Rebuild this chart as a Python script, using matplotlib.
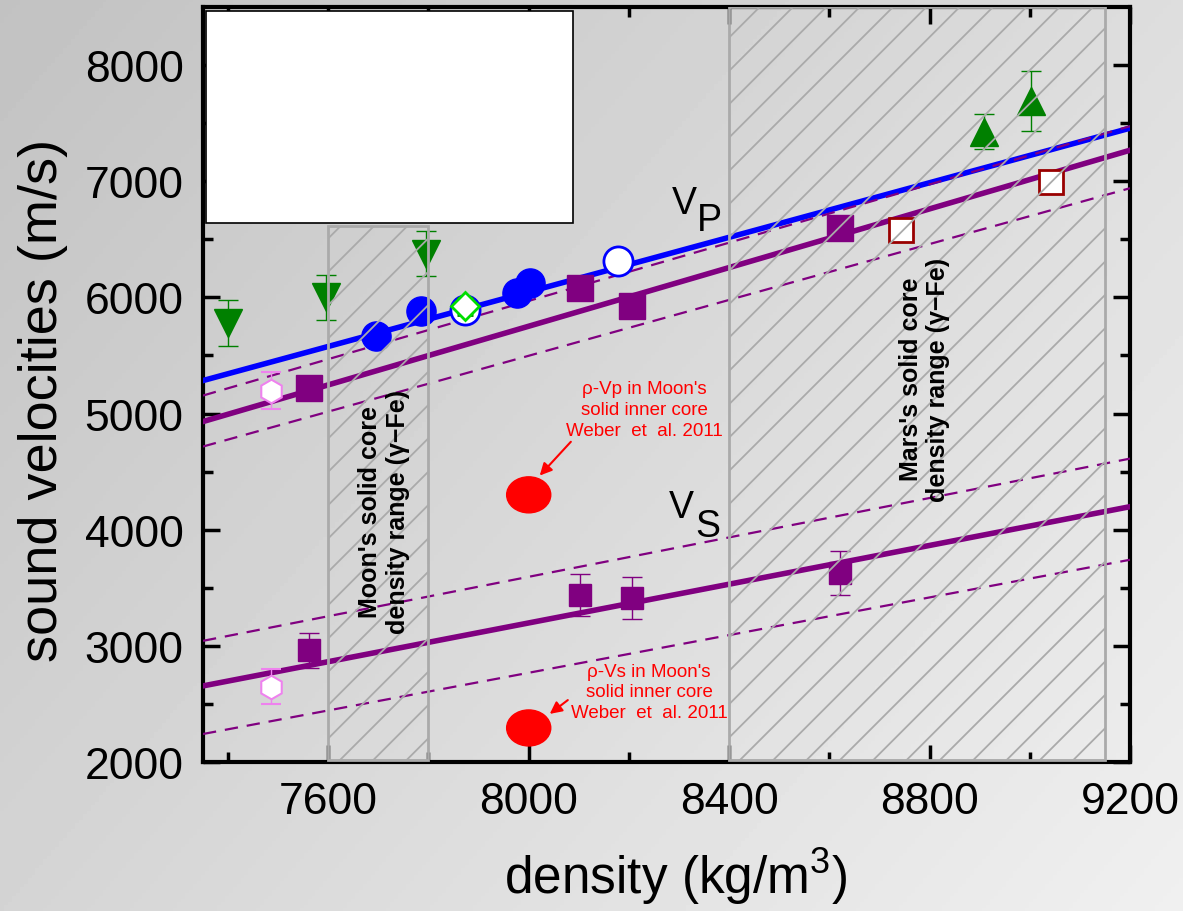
import numpy as np
import matplotlib.pyplot as plt
from matplotlib.patches import Rectangle, Ellipse

plt.rcParams['font.family'] = ['Liberation Sans', 'DejaVu Sans']
plt.rcParams['hatch.linewidth'] = 1.3

# linear fits (density -> velocity)
fit_rho = [7350, 9200]
vp_fit_blue = [5284, 7457]
vp_fit = [4931, 7267]
vp_fit_up = [5155, 7474]
vp_fit_lo = [4716, 6940]
vs_fit = [2655, 4198]
vs_fit_up = [3043, 4612]
vs_fit_lo = [2241, 3741]

# green down triangles (Vp)
tri_dn_rho = [7400, 7595, 7795]
tri_dn_vp = [5780, 6000, 6375]
tri_dn_err = [195, 195, 195]

# green up triangles (Vp)
tri_up_rho = [8908, 9002]
tri_up_vp = [7425, 7690]
tri_up_err = [150, 260]

# blue filled circles (Vp)
circ_rho = [7696, 7786, 7976, 8002]
circ_vp = [5664, 5885, 6034, 6121]

# blue open circles (Vp)
ocirc_rho = [7872, 8178]
ocirc_vp = [5895, 6310]
ocirc_err = [40, 60]

# green open diamond (Vp)
dia_rho = [7872]
dia_vp = [5922]
dia_err = [70]

# purple squares
sq_rho = [7562, 8102, 8206, 8622]
sq_vp = [5216, 6078, 5922, 6595]
sq_vs = [2960, 3435, 3414, 3630]
sq_vs_err = [150, 180, 180, 190]

# open dark red squares (Vp)
osq_rho = [8742, 9042]
osq_vp = [6578, 6991]
osq_err = [50, 50]

# pink open hexagons
hex_rho = [7486]
hex_vp = [5198]
hex_vp_err = [160]
hex_vs = [2647]
hex_vs_err = [150]

# Weber et al. 2011 Moon inner core
weber_rho = 8000
weber_vp = 4300
weber_vs = 2293

fig = plt.figure(figsize=(11.83, 9.12), dpi=100)

# grey gradient background
bg = fig.add_axes([0, 0, 1, 1], zorder=-10)
gx, gy = np.meshgrid(np.linspace(0, 1, 300), np.linspace(0, 1, 300))
grad = 0.76 + 0.18 * (0.6 * gx + 0.4 * gy)
bg.imshow(grad, cmap='gray', vmin=0, vmax=1, aspect='auto', extent=[0, 1, 0, 1], origin='upper')
bg.axis('off')

ax = fig.add_axes([0.1716, 0.1634, 0.7836, 0.8278])
ax.set_facecolor('none')
ax.set_xlim(7350, 9200)
ax.set_ylim(2000, 8500)

# fit lines
ax.plot(fit_rho, vp_fit_blue, color='blue', lw=4, zorder=3)
ax.plot(fit_rho, vp_fit, color='purple', lw=4, zorder=3)
ax.plot(fit_rho, vp_fit_up, color='purple', lw=1.6, ls=(0, (6, 4)), zorder=3)
ax.plot(fit_rho, vp_fit_lo, color='purple', lw=1.6, ls=(0, (6, 4)), zorder=3)
ax.plot(fit_rho, vs_fit, color='purple', lw=4, zorder=3)
ax.plot(fit_rho, vs_fit_up, color='purple', lw=1.6, ls=(0, (6, 4)), zorder=3)
ax.plot(fit_rho, vs_fit_lo, color='purple', lw=1.6, ls=(0, (6, 4)), zorder=3)

# data points
ax.errorbar(tri_dn_rho, tri_dn_vp, yerr=tri_dn_err, fmt='v', ms=20, color='green',
            ecolor='green', elinewidth=1, capsize=7, zorder=4)
ax.errorbar(tri_up_rho, tri_up_vp, yerr=tri_up_err, fmt='^', ms=20, color='green',
            ecolor='green', elinewidth=1, capsize=7, zorder=4)
ax.plot(circ_rho, circ_vp, 'o', ms=21, color='blue', zorder=4)
ax.errorbar(ocirc_rho, ocirc_vp, yerr=ocirc_err, fmt='o', ms=21, mfc='white', mec='blue',
            mew=2, ecolor='blue', elinewidth=1, capsize=6, zorder=4)
ax.errorbar(dia_rho, dia_vp, yerr=dia_err, fmt='D', ms=14, mfc='white', mec='#00dd00',
            mew=2, ecolor='green', elinewidth=1, capsize=6, zorder=5)
ax.plot(sq_rho, sq_vp, 's', ms=19, color='purple', zorder=4)
ax.errorbar(sq_rho, sq_vs, yerr=sq_vs_err, fmt='s', ms=16, color='purple',
            ecolor='purple', elinewidth=1, capsize=7, zorder=4)
ax.errorbar(osq_rho, osq_vp, yerr=osq_err, fmt='s', ms=17, mfc='white', mec='#990000',
            mew=2, ecolor='#990000', elinewidth=1, capsize=6, zorder=4)
ax.errorbar(hex_rho, hex_vp, yerr=hex_vp_err, fmt='h', ms=17, mfc='white', mec='violet',
            mew=1.5, ecolor='violet', elinewidth=1, capsize=7, zorder=4)
ax.errorbar(hex_rho, hex_vs, yerr=hex_vs_err, fmt='h', ms=17, mfc='white', mec='violet',
            mew=1.5, ecolor='violet', elinewidth=1, capsize=7, zorder=4)

for v in [weber_vp, weber_vs]:
    ax.add_patch(Ellipse((weber_rho, v), 88, 310, color='red', zorder=4))

# density ranges (hatched, drawn on top)
ax.add_patch(Rectangle((7600, 2015), 200, 4600, facecolor='none', edgecolor='#aaaaaa',
                       hatch='/', lw=2, zorder=6))
ax.add_patch(Rectangle((8400, 2015), 750, 6485, facecolor='none', edgecolor='#aaaaaa',
                       hatch='/', lw=2, zorder=6))
ax.text(7712, 4164, "Moon's solid core\ndensity range (\u03b3\u2212Fe)", rotation=90,
        ha='center', va='center', fontsize=18, fontweight='bold', zorder=7)
ax.text(8790, 5300, "Mars's solid core\ndensity range (\u03b3\u2212Fe)", rotation=90,
        ha='center', va='center', fontsize=18, fontweight='bold', zorder=7)

# white box in upper left
ax.add_patch(Rectangle((7356, 6638), 732, 1830, facecolor='white', edgecolor='black',
                       lw=1.2, zorder=8))

# V_P, V_S labels
ax.text(8286, 6724, 'V', fontsize=27, zorder=7)
ax.text(8336, 6578, 'P', fontsize=27, zorder=7)
ax.text(8280, 4112, 'V', fontsize=27, zorder=7)
ax.text(8332, 3948, 'S', fontsize=27, zorder=7)

# Weber annotations
ax.annotate("\u03c1-Vp in Moon's\nsolid inner core\nWeber  et  al. 2011",
            xy=(8022, 4466), xytext=(8230, 5034), ha='center', va='center',
            color='red', fontsize=13.5, linespacing=1.3, zorder=7,
            arrowprops=dict(arrowstyle='-|>', color='red', lw=1.5, mutation_scale=18,
                            shrinkA=0, shrinkB=0, relpos=(0.05, 0)))
ax.annotate("\u03c1-Vs in Moon's\nsolid inner core\nWeber  et  al. 2011",
            xy=(8042, 2414), xytext=(8240, 2603), ha='center', va='center',
            color='red', fontsize=13.5, linespacing=1.3, zorder=7,
            arrowprops=dict(arrowstyle='-|>', color='red', lw=1.5, mutation_scale=18,
                            shrinkA=0, shrinkB=0, relpos=(0.05, 0.5)))

# axes formatting
ax.set_xticks([7600, 8000, 8400, 8800, 9200])
ax.set_xticks([7400, 7800, 8200, 8600, 9000], minor=True)
ax.set_yticks([2000, 3000, 4000, 5000, 6000, 7000, 8000])
ax.set_yticks([2500, 3500, 4500, 5500, 6500, 7500], minor=True)
ax.tick_params(which='both', direction='in', top=True, right=True, width=2.5)
ax.tick_params(which='major', length=12, labelsize=32, pad=14)
ax.tick_params(which='minor', length=7)
for s in ax.spines.values():
    s.set_linewidth(3)

ax.set_xlabel('density (kg/m$^\\mathregular{3}$)', fontsize=37)
ax.set_ylabel('sound velocities (m/s)', fontsize=39)
ax.xaxis.set_label_coords(0.51, -0.11)
ax.yaxis.set_label_coords(-0.146, 0.48)

fig.savefig('out.png', dpi=100)
